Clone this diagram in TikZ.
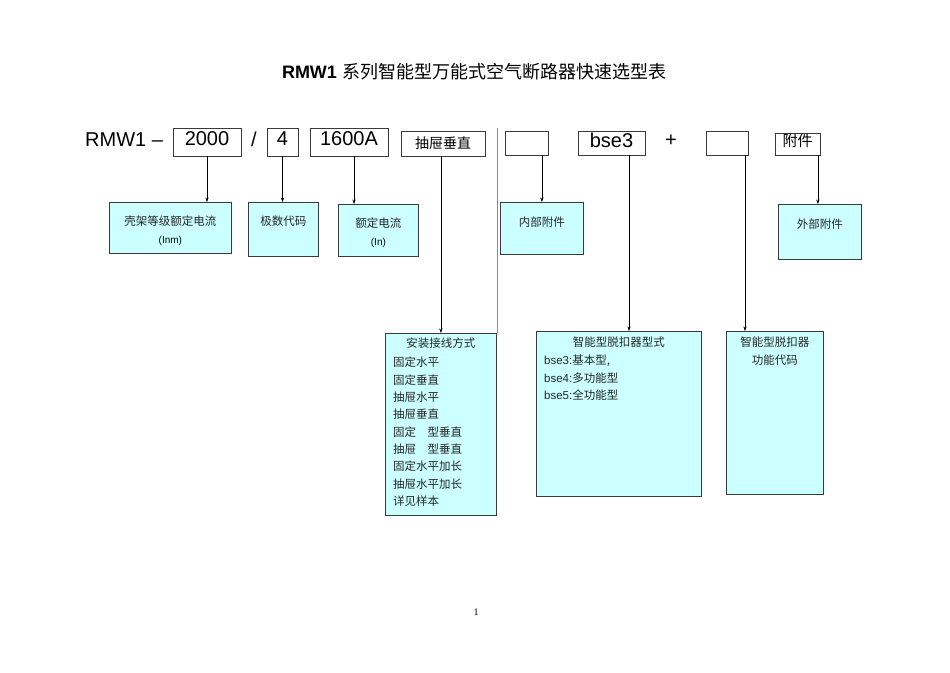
\documentclass[tikz,border=0pt]{standalone}
\usepackage{fontspec}
\setmainfont{Liberation Sans}
\newfontfamily\cjk{Noto Sans CJK SC}
\newfontfamily\pagefont{Liberation Serif}
\usetikzlibrary{arrows.meta, positioning}
\definecolor{boxcyan}{HTML}{CCFFFF}
\definecolor{framegray}{HTML}{3A3A3A}
\tikzset{
  x=1pt, y=-1pt,
  >={Stealth[length=4.5pt,width=3.2pt]},
  codebox/.style={draw=framegray, line width=0.6pt, inner sep=0pt,
    font=\fontsize{20}{20}\selectfont},
  codetext/.style={font=\fontsize{20}{20}\selectfont, inner sep=0pt},
  infobox/.style={draw=framegray, line width=0.8pt, fill=boxcyan,
    anchor=north west, inner sep=0pt},
  infotext/.style={font=\fontsize{11.5}{17.3}\selectfont\cjk, inner sep=0pt,
    text=black!85},
  smalltext/.style={font=\fontsize{10}{12}\selectfont, inner sep=0pt},
}

\begin{document}
\begin{tikzpicture}
  \useasboundingbox (0,0) rectangle (950,672);

  \node[inner sep=0pt] (title) at (474,72)
    {\fontsize{18}{18}\selectfont\textbf{RMW1} \cjk 系列智能型万能式空气断路器快速选型表};

  % code row
  \node[codetext, anchor=base west] (rmw) at (85,146) {RMW1 –};
  \node[codebox, minimum width=68pt, text height=17pt, text depth=11pt] (b2000) at (207,142) {2000};
  \node[codetext, anchor=base] (slash) at (254,146) {/};
  \node[codebox, minimum width=31pt, text height=17pt, text depth=11pt] (b4) at (282.5,142) {4};
  \node[codebox, minimum width=78pt, text height=17pt, text depth=11pt] (b1600) at (349,142) {1600A};
  \node[codebox, minimum width=84pt, minimum height=25pt,
        font=\fontsize{14}{14}\selectfont\cjk] (bcc) at (443,143.5) {抽屉垂直};
  \node[codebox, minimum width=43pt, minimum height=24pt] (be1) at (526.5,143) {};
  \node[codebox, minimum width=67pt, text height=16pt, text depth=8pt] (bse) at (611.5,143) {bse3};
  \node[codetext, anchor=base] (plus) at (671,146) {+};
  \node[codebox, minimum width=42pt, minimum height=24pt] (be2) at (727,143) {};
  \node[codebox, minimum width=45pt, text height=13pt, text depth=9pt,
        font=\fontsize{15}{15}\selectfont\cjk] (bfj) at (797.5,144) {附件};

  \draw[black!45, line width=0.6pt] (497,128) -- (497,333);

  % description boxes
  \node[infobox, minimum width=122pt, minimum height=51pt] (kj) at (109,202) {};
  \node[infotext] (kjt) at (kj.north |- 0,221) {壳架等级额定电流};
  \node[smalltext] (kjn) at (kj.north |- 0,241) {(Inm)};

  \node[infobox, minimum width=70pt, minimum height=54pt] (js) at (248,202) {};
  \node[infotext] (jst) at (js.north |- 0,221) {极数代码};

  \node[infobox, minimum width=80pt, minimum height=52pt] (ed) at (338,204) {};
  \node[infotext] (edt) at (ed.north |- 0,223) {额定电流};
  \node[smalltext] (edn) at (ed.north |- 0,243) {(In)};

  \node[infobox, minimum width=83pt, minimum height=52pt] (nb) at (500,202) {};
  \node[infotext] (nbt) at (nb.north |- 0,222) {内部附件};

  \node[infobox, minimum width=83pt, minimum height=55pt] (wb) at (778,204) {};
  \node[infotext] (wbt) at (wb.north |- 0,224) {外部附件};

  \node[infobox, minimum width=111pt, minimum height=182pt] (az) at (385,333) {};
  \node[infotext] (azt) at (az.north |- 0,343) {安装接线方式};
  \node[infotext, align=left, anchor=north west] (azl) at (393,357) {%
    固定水平\\固定垂直\\抽屉水平\\抽屉垂直\\固定\hspace{1em}型垂直\\
    抽屉\hspace{1em}型垂直\\固定水平加长\\抽屉水平加长\\详见样本};

  \node[infobox, minimum width=165pt, minimum height=165pt] (zn) at (536,331) {};
  \node[infotext] (znt) at (zn.north |- 0,342) {智能型脱扣器型式};
  \node[infotext, align=left, anchor=north west] (znl) at (544,355) {%
    {\rmfamily bse3:}基本型,\\
    {\rmfamily bse4:}多功能型\\
    {\rmfamily bse5:}全功能型};

  \node[infobox, minimum width=97pt, minimum height=163pt] (gn) at (726,331) {};
  \node[infotext, align=center, anchor=north] (gnt) at ([yshift=-6pt]gn.north) {智能型脱扣器\\功能代码};

  \node[font=\fontsize{10}{10}\selectfont\pagefont, inner sep=0pt] (page) at (476,612) {1};

  % arrows
  \draw[->] (b2000.south) -- (b2000.south |- kj.north);
  \draw[->] (b4.south) -- (b4.south |- js.north);
  \draw[->] ([xshift=5pt]b1600.south) -- ([xshift=5pt]b1600.south |- ed.north);
  \draw[->] (az.north |- bcc.south) -- (az.north);
  \draw[->] (nb.north |- be1.south) -- (nb.north);
  \draw[->] ([xshift=17.5pt]bse.south) -- ([xshift=17.5pt]bse.south |- zn.north);
  \draw[->] ([xshift=18pt]be2.south) -- ([xshift=18pt]be2.south |- gn.north);
  \draw[->] ([xshift=-2pt]wb.north |- bfj.south) -- ([xshift=-2pt]wb.north);
\end{tikzpicture}
\end{document}
